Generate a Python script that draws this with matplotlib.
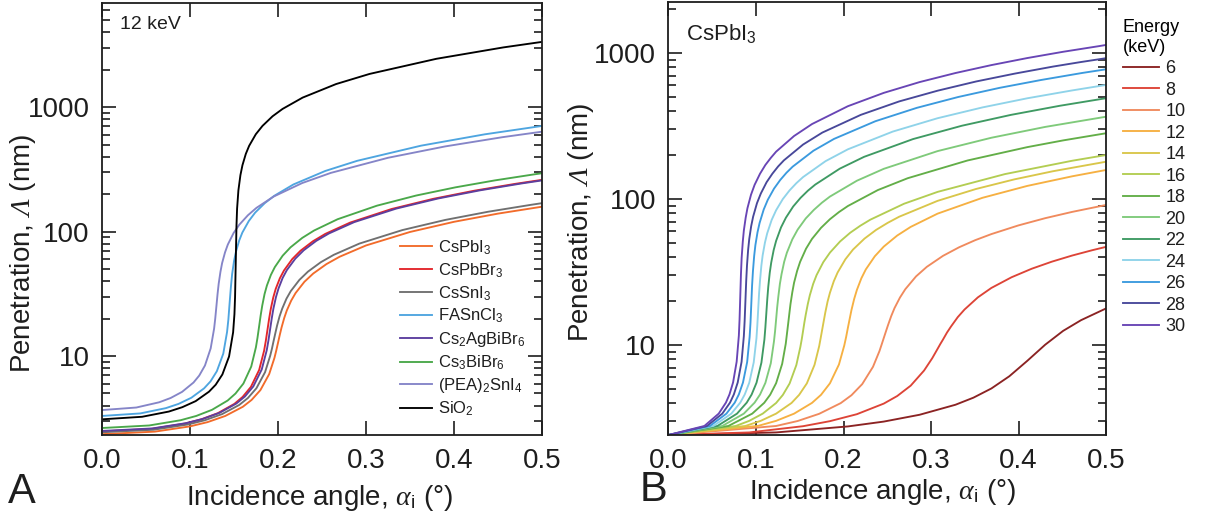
import matplotlib
matplotlib.use("Agg")
import matplotlib.pyplot as plt
import numpy as np
from matplotlib.ticker import LogLocator, NullFormatter

plt.rcParams['font.family'] = ['Liberation Sans', 'DejaVu Sans']
plt.rcParams['mathtext.fontset'] = 'custom'
plt.rcParams['mathtext.rm'] = 'Liberation Serif:italic'
plt.rcParams['mathtext.it'] = 'Liberation Serif:italic'
plt.rcParams['mathtext.sf'] = 'Liberation Sans'
plt.rcParams['mathtext.bf'] = 'Liberation Sans:bold'

# ---------------- Panel A: different materials at 12 keV ----------------
materials = ['CsPbI$_\\mathsf{3}$', 'CsPbBr$_\\mathsf{3}$', 'CsSnI$_\\mathsf{3}$',
             'FASnCl$_\\mathsf{3}$', 'Cs$_\\mathsf{2}$AgBiBr$_\\mathsf{6}$',
             'Cs$_\\mathsf{3}$BiBr$_\\mathsf{6}$', '(PEA)$_\\mathsf{2}$SnI$_\\mathsf{4}$',
             'SiO$_\\mathsf{2}$']
material_colors = ['#f26b2a', '#e3262b', '#707070', '#4ea5e0', '#5b3f9f',
                   '#4aa84a', '#8585c8', '#000000']

angle_cspbi3 = [0, 0.06, 0.1, 0.12, 0.14, 0.16, 0.17, 0.18, 0.19, 0.196, 0.198, 0.2, 0.202,
                0.204, 0.207, 0.21, 0.215, 0.22, 0.23, 0.24, 0.255, 0.27, 0.3, 0.35, 0.4,
                0.45, 0.5]
pen_cspbi3 = [2.356, 2.469, 2.721, 2.945, 3.298, 3.909, 4.439, 5.322, 7.162, 9.681, 11.05,
              12.76, 14.75, 16.90, 20.13, 23.21, 27.87, 32.07, 39.46, 45.97, 54.73, 62.72,
              77.28, 99.2, 119.7, 139.3, 158.3]

angle_cspbbr3 = [0, 0.0564, 0.094, 0.1128, 0.1316, 0.1504, 0.1598, 0.1692, 0.1786, 0.1842,
                 0.1861, 0.188, 0.1899, 0.1918, 0.1946, 0.1974, 0.2021, 0.2068, 0.2162,
                 0.2256, 0.2397, 0.2538, 0.282, 0.329, 0.376, 0.423, 0.47, 0.5]
pen_cspbbr3 = [2.48, 2.599, 2.864, 3.1, 3.472, 4.124, 4.692, 5.647, 7.733, 11.03, 13.17,
               16.18, 19.91, 23.88, 29.52, 34.62, 42.09, 48.66, 60.09, 70.11, 83.53, 95.75,
               118.0, 151.6, 182.8, 212.7, 241.8, 260.1]

angle_cssni3 = [0, 0.0585, 0.0975, 0.117, 0.1365, 0.156, 0.1658, 0.1755, 0.1853, 0.1911,
                0.1931, 0.195, 0.197, 0.1989, 0.2018, 0.2048, 0.2096, 0.2145, 0.2243, 0.234,
                0.2486, 0.2633, 0.2925, 0.3413, 0.39, 0.4388, 0.4875, 0.5]
pen_cssni3 = [2.44, 2.557, 2.818, 3.05, 3.416, 4.048, 4.597, 5.512, 7.418, 10.03, 11.44,
              13.21, 15.28, 17.50, 20.85, 24.03, 28.87, 33.21, 40.87, 47.6, 56.68, 64.95,
              80.03, 102.7, 123.9, 144.2, 163.9, 169.0]

angle_fasncl3 = [0, 0.0435, 0.0725, 0.087, 0.1015, 0.116, 0.1233, 0.1305, 0.1378, 0.1421,
                 0.1436, 0.145, 0.1465, 0.1479, 0.1501, 0.1523, 0.1559, 0.1595, 0.1668,
                 0.174, 0.1849, 0.1958, 0.2175, 0.2538, 0.29, 0.3625, 0.435, 0.5]
pen_fasncl3 = [3.3, 3.458, 3.812, 4.125, 4.62, 5.498, 6.254, 7.547, 10.44, 15.57, 19.61,
               26.55, 36.04, 45.64, 58.28, 69.14, 84.68, 98.14, 121.4, 141.8, 168.9, 193.7,
               238.8, 306.7, 369.9, 489.4, 603.9, 705.0]

angle_csagbibr = [0, 0.0573, 0.0955, 0.1146, 0.1337, 0.1528, 0.1624, 0.1719, 0.1815, 0.1872,
                  0.1891, 0.191, 0.1929, 0.1948, 0.1977, 0.2006, 0.2053, 0.2101, 0.2197,
                  0.2292, 0.2435, 0.2579, 0.2865, 0.3343, 0.382, 0.4298, 0.4775, 0.5]
pen_csagbibr = [2.5, 2.62, 2.888, 3.125, 3.5, 4.158, 4.73, 5.693, 7.795, 11.12, 13.28, 16.31,
                20.07, 24.07, 29.76, 34.9, 42.43, 49.05, 60.58, 70.68, 84.2, 96.53, 118.95,
                152.8, 184.3, 214.4, 243.8, 257.4]

angle_csbibr = [0, 0.0536, 0.0893, 0.1071, 0.125, 0.1428, 0.1517, 0.1607, 0.1696, 0.1749,
                0.1767, 0.1785, 0.1803, 0.1821, 0.1847, 0.1874, 0.1919, 0.1964, 0.2053,
                0.2142, 0.2276, 0.241, 0.2678, 0.3124, 0.357, 0.4016, 0.4463, 0.4909, 0.5]
pen_csbibr = [2.64, 2.767, 3.049, 3.3, 3.696, 4.39, 4.995, 6.011, 8.232, 11.75, 14.02, 17.22,
              21.2, 25.42, 31.43, 36.85, 44.8, 51.8, 63.97, 74.63, 88.92, 101.9, 125.6,
              161.3, 194.6, 226.4, 257.4, 287.8, 293.9]

angle_pea = [0, 0.039, 0.065, 0.078, 0.091, 0.104, 0.1105, 0.117, 0.1235, 0.1274, 0.1287,
             0.13, 0.1313, 0.1326, 0.1346, 0.1365, 0.1398, 0.143, 0.1495, 0.156, 0.1658,
             0.1755, 0.195, 0.2275, 0.26, 0.325, 0.39, 0.455, 0.5]
pen_pea = [3.68, 3.857, 4.25, 4.6, 5.152, 6.124, 6.966, 8.39, 11.52, 16.61, 20.05, 25.07,
           31.41, 38.09, 47.47, 55.83, 68.0, 78.64, 97.19, 113.4, 135.1, 154.9, 190.9,
           245.2, 295.8, 391.2, 482.8, 572.6, 634.0]

angle_sio2 = [0, 0.0456, 0.076, 0.0912, 0.1064, 0.1216, 0.1292, 0.1368, 0.1444, 0.149,
              0.1505, 0.1512, 0.152, 0.1528, 0.1535, 0.155, 0.1573, 0.1596, 0.1634, 0.1672,
              0.1748, 0.1824, 0.1938, 0.2052, 0.228, 0.266, 0.304, 0.38, 0.456, 0.5]
pen_sio2 = [3.10, 3.25, 3.58, 3.88, 4.34, 5.17, 5.88, 7.11, 9.92, 15.5, 21.7, 29.7, 57.5,
            110.6, 152.4, 214.2, 284, 341, 420, 488, 605, 706, 843, 966, 1191, 1530, 1845,
            2441, 3013, 3338]

material_angles = [angle_cspbi3, angle_cspbbr3, angle_cssni3, angle_fasncl3,
                   angle_csagbibr, angle_csbibr, angle_pea, angle_sio2]
material_pens = [pen_cspbi3, pen_cspbbr3, pen_cssni3, pen_fasncl3,
                 pen_csagbibr, pen_csbibr, pen_pea, pen_sio2]

# ---------------- Panel B: CsPbI3 at several X-ray energies ----------------
energies = [6, 8, 10, 12, 14, 16, 18, 20, 22, 24, 26, 28, 30]
energy_colors = ['#8b2323', '#dd4437', '#f08a5d', '#f6b042', '#d9c64a', '#b3cd52',
                 '#63ae48', '#7fca7a', '#3f9a63', '#8fd3e9', '#3b9ade', '#48489a', '#6845b5']

angle_6 = [0, 0.123, 0.205, 0.246, 0.287, 0.328, 0.3485, 0.369, 0.3895, 0.41, 0.4305, 0.451,
           0.4715, 0.5]
pen_6 = [2.42, 2.52, 2.77, 2.99, 3.33, 3.90, 4.36, 5.04, 6.11, 7.79, 10.05, 12.5, 14.8, 17.8]

angle_8 = [0, 0.0923, 0.1538, 0.1845, 0.2153, 0.246, 0.2614, 0.2768, 0.2921, 0.3014, 0.3044,
           0.3075, 0.3106, 0.3137, 0.3183, 0.3229, 0.3306, 0.3383, 0.3536, 0.369, 0.3921,
           0.4151, 0.4382, 0.4613, 0.4843, 0.5]
pen_8 = [2.42, 2.52, 2.78, 3.01, 3.36, 3.97, 4.475, 5.27, 6.69, 8.12, 8.73, 9.41, 10.15, 10.9,
         12.18, 13.4, 15.53, 17.5, 21.21, 24.6, 29.12, 33.3, 37.24, 41.0, 44.6, 47.0]

angle_10 = [0, 0.123, 0.1476, 0.1722, 0.1968, 0.2091, 0.2214, 0.2337, 0.2411, 0.2435, 0.246,
            0.2485, 0.2509, 0.2546, 0.2583, 0.2645, 0.2706, 0.2829, 0.2952, 0.3137, 0.3321,
            0.3506, 0.369, 0.3998, 0.4305, 0.4613, 0.5]
pen_10 = [2.42, 2.79, 3.017, 3.38, 4.0, 4.531, 5.40, 7.09, 9.09, 10.04, 11.16, 12.40, 13.7,
          15.82, 17.9, 21.13, 24.1, 29.51, 34.3, 40.80, 46.7, 52.27, 57.5, 65.91, 73.9, 81.59,
          91.0]

angle_12 = [0, 0.1025, 0.123, 0.1435, 0.164, 0.1743, 0.1845, 0.1948, 0.2009, 0.203, 0.205,
            0.2071, 0.2091, 0.2122, 0.2153, 0.2204, 0.2255, 0.2358, 0.246, 0.2614, 0.2768,
            0.3075, 0.3588, 0.41, 0.4613, 0.5]
pen_12 = [2.42, 2.795, 3.025, 3.388, 4.015, 4.559, 5.467, 7.357, 9.944, 11.35, 13.10, 15.15,
          17.36, 20.68, 23.84, 28.63, 32.94, 40.54, 47.21, 56.22, 64.42, 79.38, 101.9, 122.9,
          143.0, 158.0]

angle_14 = [0, 0.0879, 0.1054, 0.123, 0.1406, 0.1493, 0.1581, 0.1669, 0.1722, 0.1739, 0.1757,
            0.1775, 0.1792, 0.1818, 0.1845, 0.1889, 0.1933, 0.2021, 0.2108, 0.224, 0.2372,
            0.2504, 0.2636, 0.3075, 0.3514, 0.3953, 0.4393, 0.5]
pen_14 = [2.42, 2.79, 3.025, 3.39, 4.01, 4.557, 5.46, 7.32, 9.82, 11.15, 12.8, 14.69, 16.7,
          19.84, 22.8, 27.33, 31.4, 38.62, 45.0, 53.55, 61.4, 68.6, 75.6, 97.1, 117.1, 136.3,
          154.9, 180]

angle_16 = [0, 0.0769, 0.0923, 0.1077, 0.123, 0.1307, 0.1384, 0.1461, 0.1507, 0.1523, 0.1538,
            0.1553, 0.1569, 0.1592, 0.1615, 0.1653, 0.1692, 0.1769, 0.1846, 0.1961, 0.2076,
            0.2192, 0.2307, 0.2692, 0.3076, 0.3845, 0.4614, 0.5]
pen_16 = [2.42, 2.79, 3.025, 3.39, 4.01, 4.553, 5.45, 7.29, 9.71, 10.97, 12.5, 14.28, 16.2,
          19.09, 21.9, 26.18, 30.1, 36.94, 43.0, 51.2, 58.7, 65.6, 72.2, 92.8, 111.9, 148.1,
          182.8, 200]

angle_18 = [0, 0.0684, 0.0957, 0.1094, 0.1162, 0.123, 0.1299, 0.134, 0.1353, 0.1367, 0.1381,
            0.1394, 0.1415, 0.1435, 0.147, 0.1504, 0.1572, 0.164, 0.1743, 0.1845, 0.1948,
            0.2051, 0.2392, 0.2734, 0.3418, 0.4101, 0.4511, 0.5]
pen_18 = [2.42, 2.79, 3.39, 4.02, 4.567, 5.48, 7.43, 10.2, 11.84, 13.9, 16.40, 19.05, 22.99,
          26.7, 32.18, 37.1, 45.70, 53.3, 63.45, 72.7, 81.35, 89.6, 115.1, 138.8, 183.6,
          226.6, 252, 282]

angle_20 = [0, 0.0615, 0.0861, 0.0984, 0.1046, 0.1107, 0.1169, 0.1205, 0.1218, 0.123, 0.1242,
            0.1255, 0.1273, 0.1292, 0.1322, 0.1353, 0.1415, 0.1476, 0.1568, 0.1661, 0.1753,
            0.1845, 0.2153, 0.246, 0.3075, 0.369, 0.4305, 0.5]
pen_20 = [2.42, 2.79, 3.39, 4.03, 4.58, 5.50, 7.50, 10.56, 12.44, 15.0, 18.10, 21.4, 26.23,
          30.6, 37.14, 42.9, 52.93, 61.7, 73.54, 84.2, 94.3, 103.9, 133.4, 160.9, 212.8,
          262.7, 311.6, 366]

angle_22 = [0, 0.0559, 0.0783, 0.0894, 0.095, 0.1006, 0.1062, 0.1096, 0.1107, 0.1118, 0.1129,
            0.114, 0.1157, 0.1174, 0.1202, 0.123, 0.1286, 0.1342, 0.1425, 0.1509, 0.1593,
            0.1677, 0.1957, 0.2236, 0.2795, 0.3354, 0.3913, 0.4472, 0.5]
pen_22 = [2.42, 2.79, 3.39, 4.03, 4.58, 5.52, 7.58, 10.9, 13.18, 16.5, 20.65, 25.0, 31.22,
          36.7, 44.72, 51.7, 63.91, 74.5, 88.86, 101.8, 114.0, 125.5, 161.3, 194.5, 257.3,
          317.6, 376.7, 434.9, 490]

angle_24 = [0, 0.0513, 0.0718, 0.082, 0.0871, 0.0923, 0.0974, 0.1005, 0.1015, 0.1025, 0.1035,
            0.1046, 0.1061, 0.1076, 0.1102, 0.1128, 0.1179, 0.123, 0.1307, 0.1384, 0.1461,
            0.1538, 0.1794, 0.205, 0.2563, 0.3075, 0.3588, 0.41, 0.4613, 0.5]
pen_24 = [2.42, 2.79, 3.39, 4.03, 4.58, 5.52, 7.61, 11.1, 13.63, 17.5, 22.48, 27.7, 34.85,
          41.1, 50.22, 58.2, 71.89, 83.8, 100.0, 114.6, 128.3, 141.3, 181.5, 218.9, 289.5,
          357.4, 423.8, 489.4, 554, 604]

angle_26 = [0, 0.0473, 0.0662, 0.0757, 0.0804, 0.0851, 0.0899, 0.0927, 0.0937, 0.0946, 0.0955,
            0.0965, 0.0979, 0.0993, 0.1017, 0.1041, 0.1088, 0.1135, 0.1206, 0.1277, 0.1348,
            0.1419, 0.1656, 0.1892, 0.2365, 0.2838, 0.3311, 0.3784, 0.4257, 0.473, 0.5]
pen_26 = [2.42, 2.79, 3.39, 4.03, 4.59, 5.53, 7.65, 11.36, 14.21, 18.98, 25.42, 32.0, 40.71,
          48.3, 59.06, 68.5, 84.68, 98.8, 117.8, 135, 151.2, 166.5, 214, 258, 341, 421,
          499.5, 577, 653, 730, 773]

angle_28 = [0, 0.044, 0.0615, 0.0703, 0.0747, 0.0791, 0.0835, 0.0861, 0.087, 0.0879, 0.0888,
            0.0897, 0.091, 0.0923, 0.0945, 0.0967, 0.1011, 0.1055, 0.1121, 0.1187, 0.1253,
            0.1319, 0.1538, 0.1758, 0.2198, 0.2637, 0.3077, 0.3516, 0.3956, 0.4395, 0.4703,
            0.5]
pen_28 = [2.42, 2.79, 3.39, 4.03, 4.59, 5.54, 7.67, 11.5, 14.54, 19.96, 27.46, 35.0, 44.82,
          53.3, 65.23, 75.6, 93.58, 109, 130.3, 149, 167.1, 184, 236, 285, 377, 466, 552, 638,
          722, 807, 865, 921]

angle_30 = [0, 0.041, 0.0574, 0.0656, 0.0697, 0.0738, 0.0779, 0.0804, 0.0812, 0.082, 0.0828,
            0.0836, 0.0849, 0.0861, 0.0882, 0.0902, 0.0943, 0.0984, 0.1046, 0.1107, 0.1169,
            0.123, 0.1435, 0.164, 0.205, 0.246, 0.287, 0.328, 0.369, 0.41, 0.451, 0.492, 0.5]
pen_30 = [2.42, 2.79, 3.39, 4.03, 4.59, 5.54, 7.69, 11.6, 14.95, 21.3, 30.55, 39.6, 51.0,
          60.8, 74.5, 86.4, 107.0, 125, 149.0, 171, 191.2, 211, 270, 326, 432, 533, 632, 729,
          826, 923, 1019, 1114, 1135]

energy_angles = [angle_6, angle_8, angle_10, angle_12, angle_14, angle_16, angle_18,
                 angle_20, angle_22, angle_24, angle_26, angle_28, angle_30]
energy_pens = [pen_6, pen_8, pen_10, pen_12, pen_14, pen_16, pen_18,
               pen_20, pen_22, pen_24, pen_26, pen_28, pen_30]

x_ticks = [0.0, 0.1, 0.2, 0.3, 0.4, 0.5]
x_tick_labels = ['0.0', '0.1', '0.2', '0.3', '0.4', '0.5']
y_ticks = [10, 100, 1000]
y_tick_labels = ['10', '100', '1000']

W, H = 1207, 527
fig = plt.figure(figsize=(W / 100, H / 100), dpi=100)
axA = fig.add_axes([102 / W, 1 - 435 / H, 440 / W, 432.3 / H])
axB = fig.add_axes([668.5 / W, 1 - 435 / H, 437.5 / W, 433 / H])

ink = '#1e1e1e'


def style_axes(ax, ylim):
    ax.set_yscale('log')
    ax.set_xlim(0, 0.5)
    ax.set_ylim(*ylim)
    ax.set_xticks(x_ticks)
    ax.set_xticklabels(x_tick_labels)
    ax.set_yticks(y_ticks)
    ax.set_yticklabels(y_tick_labels)
    ax.yaxis.set_minor_locator(LogLocator(base=10, subs=np.arange(2, 10)))
    ax.yaxis.set_minor_formatter(NullFormatter())
    ax.tick_params(which='both', direction='in', top=True, right=True,
                   width=1.2, color=ink, labelcolor=ink)
    ax.tick_params(which='major', length=10, labelsize=20, pad=9)
    ax.tick_params(which='minor', length=6)
    for s in ax.spines.values():
        s.set_linewidth(1.3)
        s.set_color(ink)
    ax.set_xlabel('Incidence angle, $\\alpha_\\mathsf{i}$ (°)', fontsize=20, color=ink)
    ax.set_ylabel('Penetration, $\\Lambda$ (nm)', fontsize=20, color=ink)


style_axes(axA, (2.32, 6890))
style_axes(axB, (2.42, 2234))
axA.xaxis.set_label_coords(0.495, -0.11)
axB.xaxis.set_label_coords(0.49, -0.098)
axA.yaxis.set_label_coords(-0.145, 0.42)
axB.yaxis.set_label_coords(-0.165, 0.49)

for a, p, c, lab in zip(material_angles, material_pens, material_colors, materials):
    axA.plot(a, p, color=c, lw=1.35, label=lab)

for a, p, c, e in zip(energy_angles, energy_pens, energy_colors, energies):
    axB.plot(a, p, color=c, lw=1.35, label=str(e))

axA.text(0.041, 0.95, '12 keV', transform=axA.transAxes, fontsize=14, va='center',
         ha='left', color=ink)
axB.text(0.04, 0.928, 'CsPbI$_\\mathsf{3}$', transform=axB.transAxes, fontsize=16,
         va='center', ha='left', color=ink)

legA = axA.legend(loc='upper left', bbox_to_anchor=(0.677, 0.455), frameon=False,
                  fontsize=12, handlelength=1.9, handletextpad=0.4, labelspacing=0.27,
                  borderpad=0, borderaxespad=0)
for t in legA.get_texts():
    t.set_color(ink)

legB = fig.legend(*axB.get_legend_handles_labels(), loc='upper left',
                  bbox_to_anchor=(1123 / W, 1 - 19 / H), frameon=False, fontsize=13,
                  title='Energy\n(keV)', title_fontsize=13, alignment='left',
                  handlelength=2.0, handletextpad=0.35, labelspacing=0.25,
                  borderpad=0, borderaxespad=0)
for t in legB.get_texts():
    t.set_color(ink)

fig.text(8 / W, 1 - 492 / H, 'A', fontsize=30, va='center', ha='left', color=ink)
fig.text(640 / W, 1 - 490 / H, 'B', fontsize=30, va='center', ha='left', color=ink)

fig.savefig('out.png', dpi=100)
